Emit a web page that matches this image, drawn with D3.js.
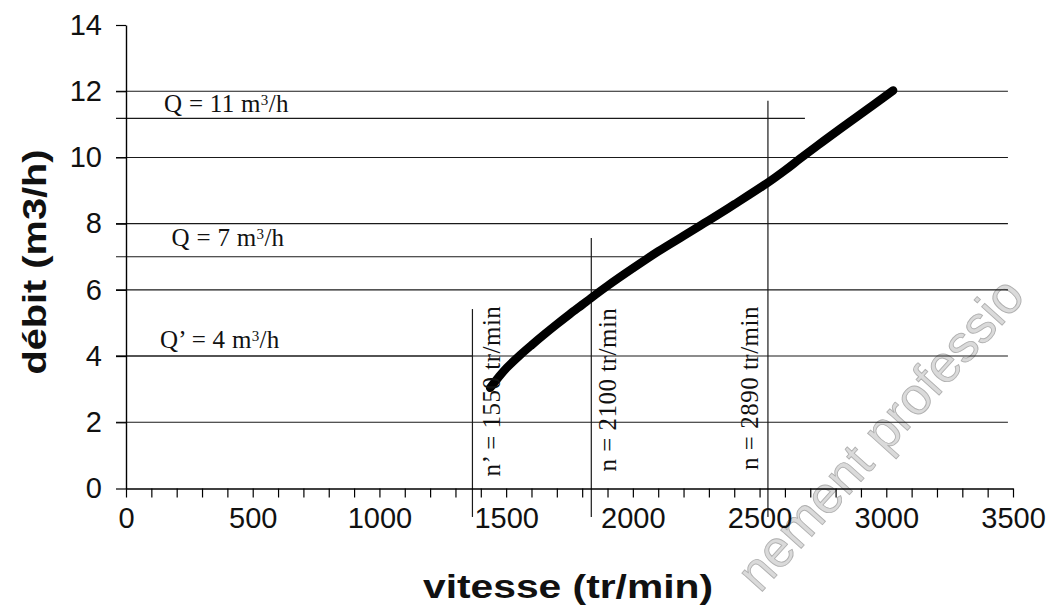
<!DOCTYPE html>
<html><head><meta charset="utf-8">
<script src="https://cdn.jsdelivr.net/npm/d3@7/dist/d3.min.js"></script>
<style>body{margin:0;background:#fff}svg{display:block}</style>
</head><body>
<svg id="c" width="1050" height="611"></svg>
<script>
// ---- data ----
const speeds = [1437,1470,1503,1555,1600,1650,1700,1750,1800,1836,1900,2000,2100,2200,2266,2300,2400,2529,2600,2661,2750,2850,2950,3027];
const flows  = [3.04,3.36,3.65,4.03,4.33,4.65,4.96,5.26,5.55,5.76,6.12,6.65,7.16,7.63,7.94,8.1,8.58,9.22,9.61,9.97,10.48,11.04,11.59,12.02];
const xTickValues = d3.range(0, 3501, 100);
const xTickLabels = [0,500,1000,1500,2000,2500,3000,3500];
const yTickValues = [0,2,4,6,8,10,12,14];
const gridValues = [2,4,6,8,10,12];
// reference annotations (as drawn on the figure)
const vLines = [ {x:1367, y0:-0.86, y1:5.42, label:"n\u2019 = 1550 tr/min", lx:1476, ly:0.36},
                 {x:1836, y0:-0.86, y1:7.57, label:"n = 2100 tr/min",  lx:1934, ly:0.51},
                 {x:2533, y0:-0.86, y1:11.71,label:"n = 2890 tr/min",  lx:2493, ly:0.56} ];
const hLines = [ {y:11.18, x1:2679, pre:"Q = 11 m", lx:150, ly:11.37},
                 {y:7.0,   x1:2080, pre:"Q = 7 m",  lx:180, ly:7.32},
                 {y:4.0,   x1:1367, pre:"Q\u2019 = 4 m", lx:134, ly:4.23} ];

const svg = d3.select('#c');
const x = d3.scaleLinear().domain([0,3500]).range([126,1013]);
const y = d3.scaleLinear().domain([0,14]).range([488.5,25]);
const sans = '"Liberation Sans", Arial, sans-serif';
const serif = '"Liberation Serif", "Times New Roman", serif';

// watermark (behind)
svg.append('text').attr('transform','translate(760,594) rotate(-48)')
  .style('font-family', sans).style('font-size','52px')
  .attr('fill','#dadada').attr('stroke','#b0b0b0').attr('stroke-width',0.9)
  .text('nement professio');

// grid
svg.append('g').selectAll('line').data(gridValues).join('line')
  .attr('x1', x(0)-10).attr('x2', x(3480))
  .attr('y1', d=>y(d)).attr('y2', d=>y(d))
  .attr('stroke','#1a1a1a').attr('stroke-width',1.1);

// horizontal annotation lines
svg.append('g').selectAll('line').data(hLines).join('line')
  .attr('x1', x(0)-10).attr('x2', d=>x(d.x1))
  .attr('y1', d=>y(d.y)).attr('y2', d=>y(d.y))
  .attr('stroke','#1a1a1a').attr('stroke-width',1.1);

// vertical annotation lines
svg.append('g').selectAll('line').data(vLines).join('line')
  .attr('x1', d=>x(d.x)).attr('x2', d=>x(d.x))
  .attr('y1', d=>y(d.y0)).attr('y2', d=>y(d.y1))
  .attr('stroke','#1a1a1a').attr('stroke-width',1.2);

// axes
const gy = svg.append('g').attr('transform',`translate(${x(0)},0)`)
  .call(d3.axisLeft(y).tickValues(yTickValues).tickSize(10).tickPadding(14).tickSizeOuter(0));
const gx = svg.append('g').attr('transform',`translate(0,${y(0)})`)
  .call(d3.axisBottom(x).tickValues(xTickValues).tickSize(9).tickPadding(10).tickSizeOuter(0)
        .tickFormat(d => xTickLabels.includes(d) ? String(d) : ''));
[gx, gy].forEach(g => {
  g.select('.domain').attr('stroke','#000').attr('stroke-width',1.4);
  g.selectAll('.tick line').attr('stroke','#000').attr('stroke-width',1.2);
  g.selectAll('.tick text').attr('fill','#111')
   .style('font-family', sans).style('font-size','29px');
});

// curve
const pts = speeds.map((s,i)=>[s, flows[i]]);
svg.append('path').datum(pts)
  .attr('d', d3.line().x(d=>x(d[0])).y(d=>y(d[1])).curve(d3.curveCatmullRom.alpha(0.5)))
  .attr('fill','none').attr('stroke','#000').attr('stroke-width',8.5)
  .attr('stroke-linecap','round').attr('stroke-linejoin','round');

// Q labels with superscript
hLines.forEach(d => {
  const t = svg.append('text').attr('x', x(d.lx)).attr('y', y(d.ly))
    .style('font-family', serif).style('font-size','25px').style('letter-spacing','0.3px').attr('fill','#111');
  t.append('tspan').text(d.pre);
  t.append('tspan').attr('dy','-0.5em').style('font-size','15px').text('3');
  t.append('tspan').attr('dy','0.3em').text('/h');
});

// n labels rotated
svg.append('g').selectAll('text').data(vLines).join('text')
  .attr('transform', d=>`translate(${x(d.lx)},${y(d.ly)}) rotate(-90)`)
  .style('font-family', serif).style('font-size','25px').style('letter-spacing','0.5px')
  .attr('fill','#111').text(d=>d.label);

// axis titles
svg.append('text').attr('x', 568).attr('y', 598).attr('text-anchor','middle')
  .attr('textLength', 290).attr('lengthAdjust','spacingAndGlyphs')
  .style('font-family', sans).style('font-weight','bold').style('font-size','34px').attr('fill','#111')
  .text('vitesse (tr/min)');
svg.append('text').attr('transform','translate(46,262) rotate(-90)').attr('text-anchor','middle')
  .attr('textLength', 225).attr('lengthAdjust','spacingAndGlyphs')
  .style('font-family', sans).style('font-weight','bold').style('font-size','34px').attr('fill','#111')
  .text('débit (m3/h)');
</script>
</body></html>
